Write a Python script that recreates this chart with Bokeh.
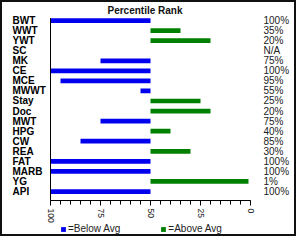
import math
from bokeh.plotting import figure
from bokeh.models import Range1d, ColumnDataSource, FixedTicker, Legend, LegendItem
from bokeh.core.properties import value
from bokeh.embed import file_html
from bokeh.resources import INLINE

# ---- data ----
traits = ["BWT", "WWT", "YWT", "SC", "MK", "CE", "MCE", "MWWT", "Stay", "Doc",
          "MWT", "HPG", "CW", "REA", "FAT", "MARB", "YG", "API"]
percentile = [100, 35, 20, None, 75, 100, 95, 55, 25, 20,
              75, 40, 85, 30, 100, 100, 1, 100]
average_rank = 50
major_ticks = [0, 25, 50, 75, 100]
minor_ticks = list(range(0, 101, 5))
legend_labels = ["=Below Avg", "=Above Avg"]

# ---- derived ----
idx = list(range(len(traits)))
pct_labels = ["N/A" if v is None else f"{v}%" for v in percentile]
below = dict(y=[], left=[], right=[])
above = dict(y=[], left=[], right=[])
for i, v in zip(idx, percentile):
    if v is None:
        continue
    d = below if v > average_rank else above
    d["y"].append(i)
    d["left"].append(min(v, average_rank))
    d["right"].append(max(v, average_rank))

BLUE = "#0000ee"
GREEN = "#008000"
bar_h = 0.47
axis_y = 17.89      # where the rank axis sits (row units)
y_bottom = 21.67
y_top = -0.5

p = figure(width=296, height=236, output_backend="svg", toolbar_location=None,
           x_range=Range1d(124, -24), y_range=Range1d(y_bottom, y_top),
           y_axis_location=None, min_border_left=0, min_border_right=0,
           min_border_top=0, min_border_bottom=0, title="Percentile Rank")
p.styles = {"border": "2px solid #111111"}
p.grid.visible = False
p.outline_line_color = None
p.background_fill_color = "white"
p.border_fill_color = "white"

p.title.text_font = "Liberation Sans"
p.title.text_font_style = "bold"
p.title.text_font_size = "10px"
p.title.text_color = "#111111"
p.title.align = "left"
p.title.offset = 105
p.title.standoff = 0

rb = p.hbar(y="y", left="left", right="right", height=bar_h, source=ColumnDataSource(below),
            fill_color=BLUE, line_color=None)
ra = p.hbar(y="y", left="left", right="right", height=bar_h, source=ColumnDataSource(above),
            fill_color=GREEN, line_color=None)

# vertical axis line at rank 100
p.segment(x0=[100], y0=[-bar_h / 2], x1=[100], y1=[axis_y], line_color="black", line_width=1)

p.text(x=119, y=idx, text=traits, text_font=value("Liberation Sans"), text_font_style="bold",
       text_font_size="10px", text_align="left", text_baseline="middle", text_color="#000000")
p.text(x=-6.5, y=idx, text=pct_labels, text_font=value("Liberation Sans"),
       text_font_size="10px", text_align="left", text_baseline="middle", text_color="#222222")

ax = p.xaxis[0]
ax.fixed_location = axis_y
ax.bounds = (0, 100)
ax.ticker = FixedTicker(ticks=major_ticks, minor_ticks=minor_ticks)
ax.major_tick_out = 5
ax.major_tick_in = 0
ax.minor_tick_out = 4
ax.minor_tick_in = 0
ax.axis_line_color = "black"
ax.major_tick_line_color = "black"
ax.minor_tick_line_color = "black"
ax.major_label_orientation = -math.pi / 2
ax.major_label_standoff = 3
ax.major_label_text_font = "Liberation Sans"
ax.major_label_text_font_size = "8.5px"
ax.major_label_text_color = "#222222"

legend = Legend(items=[LegendItem(label=legend_labels[0], renderers=[rb]),
                       LegendItem(label=legend_labels[1], renderers=[ra])],
                orientation="horizontal", location=(58, 4), padding=0, margin=0,
                spacing=40, label_standoff=2, glyph_width=6, glyph_height=6,
                label_height=11, label_text_font="Liberation Sans",
                label_text_font_size="10px", label_text_color="#222222",
                border_line_color=None, background_fill_alpha=0)
p.add_layout(legend, "center")

open("out.html", "w").write(file_html(p, INLINE))
